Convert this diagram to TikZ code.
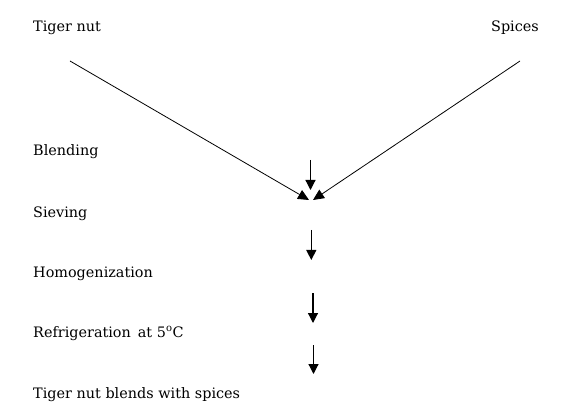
\documentclass[tikz,border=0pt]{standalone}
\usepackage{fontspec}
\setmainfont{DejaVu Serif}
\usetikzlibrary{arrows.meta}
\begin{document}
\begin{tikzpicture}[x=1pt,y=-1pt,
  lbl/.style={anchor=base west,inner sep=0pt,font=\fontsize{14.4}{16}\selectfont},
  flow/.style={line width=1.2pt,-{Triangle[length=10pt,width=10pt]}},
  diag/.style={line width=0.8pt,-{Triangle[length=11pt,width=10pt]}}]
\useasboundingbox (0,0) rectangle (573,414);
\node[lbl] (tn) at (33,32) {Tiger nut};
\node[lbl,anchor=base east] (sp) at (539,32) {Spices};
\node[lbl] (bl) at (33,156) {Blending};
\node[lbl] (si) at (33,218) {Sieving};
\node[lbl] (ho) at (33,277) {Homogenization};
\node[lbl] (re) at (33,337) {Refrigeration\, at 5\textsuperscript{o}C};
\node[lbl] (fi) at (33,398) {Tiger nut blends with spices};
\coordinate (l0) at (70,61);
\coordinate (l1) at (309,200);
\coordinate (r0) at (520,61);
\coordinate (r1) at (313,200);
\coordinate (a1s) at (310.5,160);
\coordinate (a1e) at (310.5,190);
\coordinate (a2s) at (311.3,230);
\coordinate (a2e) at (311.3,260);
\coordinate (a3s) at (313,293);
\coordinate (a3e) at (313,323);
\coordinate (a4s) at (313.5,345);
\coordinate (a4e) at (313.5,374);
\draw[diag] (l0) -- (l1);
\draw[diag] (r0) -- (r1);
\draw[flow] (a1s) -- (a1e);
\draw[flow] (a2s) -- (a2e);
\draw[flow] (a3s) -- (a3e);
\draw[flow] (a4s) -- (a4e);
\end{tikzpicture}
\end{document}
